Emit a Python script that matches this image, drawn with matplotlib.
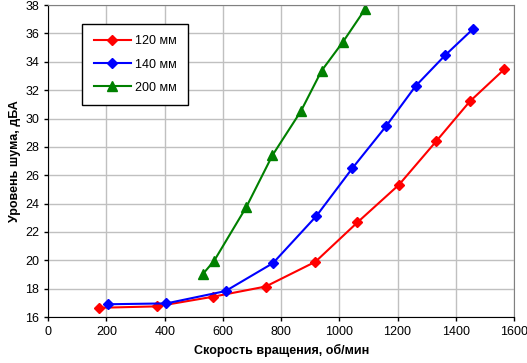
import matplotlib
matplotlib.use('Agg')
import matplotlib.pyplot as plt

plt.rcParams['font.family'] = ['Liberation Sans', 'DejaVu Sans']

# speed, rpm / noise, dBA
rpm_120 = [174, 372, 566, 747, 918, 1062, 1205, 1333, 1448, 1566]
dba_120 = [16.65, 16.75, 17.43, 18.15, 19.9, 22.67, 25.33, 28.4, 31.2, 33.46]

rpm_140 = [206, 406, 609, 772, 921, 1045, 1161, 1262, 1363, 1460]
dba_140 = [16.9, 16.96, 17.83, 19.8, 23.12, 26.5, 29.47, 32.29, 34.45, 36.33]

rpm_200 = [532, 570, 681, 770, 868, 939, 1013, 1088]
dba_200 = [19.05, 19.97, 23.78, 27.4, 30.52, 33.37, 35.42, 37.7]

labels = ['120 мм', '140 мм', '200 мм']

fig = plt.figure(figsize=(5.27, 3.63), dpi=100)
ax = fig.add_axes([0.0916, 0.1267, 0.8837, 0.8593])

ax.plot(rpm_120, dba_120, color='#ff0000', marker='D', markersize=5.5, lw=1.5, label=labels[0])
ax.plot(rpm_140, dba_140, color='#0000ff', marker='D', markersize=5.5, lw=1.5, label=labels[1])
ax.plot(rpm_200, dba_200, color='#008000', marker='^', markersize=7, lw=1.5, label=labels[2])

ax.set_xlim(0, 1600)
ax.set_ylim(16, 38)
ax.set_xticks(range(0, 1601, 200))
ax.set_yticks(range(16, 39, 2))
ax.grid(True, color='#c0c0c0', lw=1)
ax.set_axisbelow(True)
ax.tick_params(labelsize=9, length=3, direction='out', width=1)

for s in ['top', 'right']:
    ax.spines[s].set_color('#808080')
for s in ['left', 'bottom']:
    ax.spines[s].set_color('black')

ax.set_xlabel('Скорость вращения, об/мин', fontsize=9, fontweight='bold', labelpad=4)
ax.set_ylabel('Уровень шума, дБА', fontsize=9, fontweight='bold', labelpad=3)

leg = ax.legend(loc='upper left', bbox_to_anchor=(0.073, 0.939), borderaxespad=0, fontsize=9,
                frameon=True, fancybox=False, edgecolor='black', framealpha=1,
                handlelength=3, labelspacing=0.9, borderpad=0.9, handletextpad=0.3)
leg.get_frame().set_linewidth(1)

fig.savefig('out.png', dpi=100)
